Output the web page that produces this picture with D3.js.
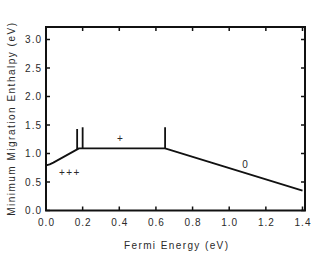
<!DOCTYPE html>
<html>
<head>
<meta charset="utf-8">
<script src="https://cdn.jsdelivr.net/npm/d3@7"></script>
<style>
  html, body { margin: 0; padding: 0; background: #fff; }
  svg text { font-family: "Liberation Sans", Arial, sans-serif; fill: #2a2a2a; }
</style>
</head>
<body>
<script>
// main curve (Fermi energy, enthalpy)
const curveX = [0.0, 0.02, 0.04, 0.18, 0.20, 0.65, 1.40];
const curveY = [0.79, 0.81, 0.84, 1.09, 1.09, 1.09, 0.35];

// vertical transition markers
const markX    = [0.17, 0.20, 0.65];
const markLow  = [1.07, 1.09, 1.09];
const markHigh = [1.43, 1.46, 1.46];

// charge state labels
const labelText = ["+++", "+", "0"];
const labelX    = [0.126, 0.404, 1.087];
const labelY    = [0.61, 1.21, 0.745];

const xTicks = [0, 0.2, 0.4, 0.6, 0.8, 1.0, 1.2, 1.4];
const yTicks = [0, 0.5, 1.0, 1.5, 2.0, 2.5, 3.0];

const W = 321, H = 253;
const m = { top: 27, right: 16, bottom: 43, left: 46 };

const svg = d3.select('body').append('svg')
  .attr('width', W).attr('height', H);

const x = d3.scaleLinear().domain([0, 1.4]).range([m.left, 302.5]);
const y = d3.scaleLinear().domain([0, 3.0]).range([210.5, 39.5]);

const x0 = m.left, x1 = W - m.right, y0 = m.top, y1 = 210.5;

// ticks, pointing inward
const g = svg.append('g').attr('stroke', '#111').attr('stroke-width', 1.5);
xTicks.forEach(t => {
  g.append('line').attr('x1', x(t)).attr('x2', x(t)).attr('y1', y1).attr('y2', y1 - 4);
  g.append('line').attr('x1', x(t)).attr('x2', x(t)).attr('y1', y0).attr('y2', y0 + 4);
});
yTicks.forEach(t => {
  g.append('line').attr('x1', x0).attr('x2', x0 + 4).attr('y1', y(t)).attr('y2', y(t));
  g.append('line').attr('x1', x1).attr('x2', x1 - 4).attr('y1', y(t)).attr('y2', y(t));
});

// tick labels
svg.append('g').selectAll('text').data(xTicks).join('text')
  .attr('x', d => x(d) + 0.5).attr('y', y1 + 15.5)
  .attr('text-anchor', 'middle').attr('font-size', 10).attr('letter-spacing', 1)
  .text(d => d3.format('.1f')(d));

svg.append('g').selectAll('text').data(yTicks).join('text')
  .attr('x', x0 - 4).attr('y', d => y(d) + 3.5)
  .attr('text-anchor', 'end').attr('font-size', 10).attr('letter-spacing', 1)
  .text(d => d3.format('.1f')(d));

// frame
svg.append('rect')
  .attr('x', x0).attr('y', y0).attr('width', x1 - x0).attr('height', y1 - y0)
  .attr('fill', 'none').attr('stroke', '#111').attr('stroke-width', 2);

// data line
const line = d3.line().x(d => x(d[0])).y(d => y(d[1]));
svg.append('path')
  .datum(d3.zip(curveX, curveY))
  .attr('d', line)
  .attr('fill', 'none').attr('stroke', '#111').attr('stroke-width', 1.8)
  .attr('stroke-linejoin', 'round');

svg.append('g').selectAll('line').data(markX).join('line')
  .attr('x1', d => x(d)).attr('x2', d => x(d))
  .attr('y1', (d, i) => y(markLow[i])).attr('y2', (d, i) => y(markHigh[i]))
  .attr('stroke', '#111').attr('stroke-width', 1.8);

svg.append('g').selectAll('text').data(labelText).join('text')
  .attr('x', (d, i) => x(labelX[i]) + 0.7).attr('y', (d, i) => y(labelY[i]))
  .attr('text-anchor', 'middle').attr('font-size', 10).attr('letter-spacing', 1.4)
  .text(d => d);

// axis titles
svg.append('text')
  .attr('x', 176.7).attr('y', 248.5)
  .attr('text-anchor', 'middle').attr('font-size', 10).attr('letter-spacing', 1.4)
  .text('Fermi Energy (eV)');

svg.append('text')
  .attr('transform', 'translate(14.5,118.7) rotate(-90)')
  .attr('text-anchor', 'middle').attr('font-size', 10).attr('letter-spacing', 1.5)
  .text('Minimum Migration Enthalpy (eV)');
</script>
</body>
</html>
